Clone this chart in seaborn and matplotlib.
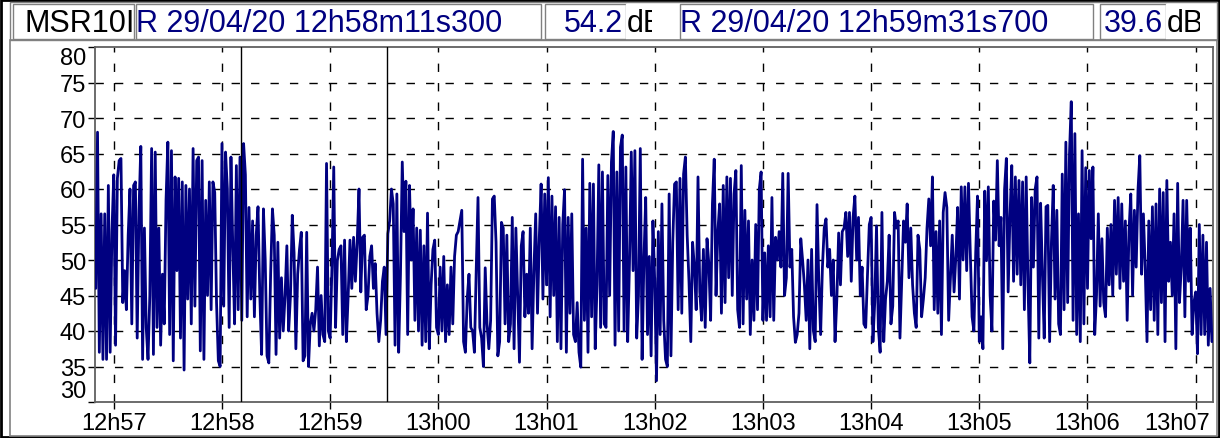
import numpy as np
import pandas as pd
import matplotlib
matplotlib.use('Agg')
from matplotlib import pyplot as plt
from matplotlib.patches import Rectangle
from matplotlib.transforms import ScaledTranslation
import seaborn as sns

# sound level (dB), one reading per second, grouped by minute
seg_1256 = [46, 68, 37, 56.5, 36, 56.5, 36, 60.5, 37, 54]
seg_1257 = [62, 38, 61.5, 64, 64.3, 44, 48.5, 43, 53.5, 60,
            41, 60.5, 61, 39, 57, 66, 36, 54.5, 40.5, 36,
            45, 65.7, 36.7, 65.2, 40.5, 54.5, 38, 48, 41, 58.5,
            66.6, 39.5, 65.4, 35.8, 61.7, 48.5, 61.5, 39, 61, 34.5,
            60.5, 44.5, 60, 41, 65.7, 43.5, 64, 64.5, 37.2, 64,
            36, 58.4, 45, 61, 43, 61, 59.5, 44, 35.8, 35]
seg_1258 = [66.4, 43.5, 65.2, 60, 40.5, 64.5, 52, 41, 63.3, 43,
            64.5, 41.5, 66.4, 62, 42, 57.4, 44.5, 55.5, 42, 53.5,
            57.5, 45, 36.7, 57.2, 50, 36.5, 35.5, 48, 57.2, 53.5,
            36.7, 52.5, 39, 47.5, 40, 45, 52, 40, 45, 56.3,
            51, 37.5, 48, 51.5, 53.9, 35.8, 36.5, 53.9, 35, 41,
            42.5, 40, 43, 49, 37.9, 45, 39.5, 38.5, 63.6, 40]
seg_1259 = [39, 49, 63.1, 40.5, 49.9, 51.5, 52, 39.5, 52.8, 38.5,
            45, 52.8, 46, 53.2, 47, 52.5, 60, 45.5, 53.2, 53.5,
            43, 45, 50.5, 52, 46, 49.5, 42.5, 38.5, 41.5, 47,
            49, 39.5, 53.7, 55.5, 60, 57.9, 38, 59.3, 37, 48,
            63.8, 54, 61.1, 39.5, 60.5, 50, 57.2, 41.5, 54.5, 40,
            54.2, 38, 52, 38.5, 56.6, 37.5, 46.5, 51.5, 52.8, 40.5]
seg_1300 = [39.5, 49, 40, 50.5, 38.5, 46.5, 39.5, 49, 41, 50.5,
            53.5, 54, 55.5, 57, 38.5, 37, 44.5, 48, 40.5, 40,
            37, 48.5, 58.8, 40.5, 39, 35, 48.9, 41, 37.5, 41.5,
            58.6, 59, 52.5, 36.5, 38.5, 55.3, 54.5, 41, 53.5, 38.5,
            41, 56, 37.5, 54.5, 45, 35.6, 52, 54, 42, 48,
            42.5, 54.5, 37.5, 48.5, 56.5, 42.5, 53.2, 60.7, 44.5, 59.3]
seg_1301 = [46.5, 61.6, 42, 59, 45, 57.5, 38.5, 56, 37.5, 55,
            59.9, 37, 56, 42.5, 56.5, 39.5, 38.5, 44, 37, 34.9,
            64.2, 41.5, 54.5, 37, 60.8, 42, 60.7, 37.5, 46.5, 63.4,
            40.5, 62.4, 41, 40.5, 61.9, 45, 63.8, 68.1, 38, 62.4,
            40, 65.9, 67.6, 40, 63.1, 38.5, 49.5, 65.2, 48.5, 65.4,
            39, 45, 65.7, 36, 49.9, 58.8, 39.5, 50.5, 36.5, 55.5]
seg_1302 = [47, 33, 54, 39.5, 57.9, 41.5, 36, 35, 59.3, 36.5,
            52.5, 60.7, 61, 43, 61.5, 42.5, 62.1, 64.5, 53.5, 47,
            38.5, 52.5, 49, 43, 61.7, 45.5, 41.5, 51.5, 40.5, 53,
            49.5, 41.5, 57.9, 64.2, 45, 54, 57.9, 42.5, 60.5, 44,
            61.7, 47.5, 61.5, 45, 59.3, 62.6, 43, 40.5, 63.3, 41,
            57, 44.5, 55.5, 39.5, 50, 41.5, 55, 43, 60, 62.4]
seg_1303 = [41.5, 51, 41.5, 52, 42, 58.8, 41.5, 53.2, 50, 54,
            49, 62.2, 45, 47.5, 62.2, 49, 51.5, 42, 38.4, 39.5,
            42.5, 53, 50, 46.5, 41.5, 50, 37.5, 51.5, 40, 38.5,
            57.8, 47, 39.5, 49, 54.5, 55.8, 49, 51.5, 45, 50,
            38.5, 44.5, 53.8, 46.5, 54, 54.5, 56.7, 50.5, 56.7, 47,
            56, 59, 50, 56, 45, 49, 41, 40.5, 48, 55]
seg_1304 = [56, 38.5, 44, 54.8, 40.5, 37, 56.7, 38.5, 44.5, 47,
            53.5, 41, 43.5, 56.7, 54.5, 55.5, 39, 47.5, 55.5, 52.5,
            57.9, 47.5, 54.5, 46.5, 42.5, 40.5, 53.5, 51.5, 42, 44.5,
            47.5, 54.5, 58.6, 52, 61.7, 43, 54, 42.5, 55.5, 39.5,
            56.7, 59.5, 57.4, 41.5, 47.5, 53.5, 45.5, 50.5, 57.4, 44.5,
            60.3, 50, 60.3, 48.5, 60.8, 51, 42, 40, 51, 59]
seg_1305 = [38.5, 42, 37.5, 59.7, 49.9, 60.3, 45, 40, 58.3, 52.8,
            64, 52, 56, 37.5, 59.9, 64.3, 45.5, 56, 63.3, 47,
            61.7, 48, 61.2, 46.5, 61, 43, 61.7, 46.5, 35.5, 58.8,
            49, 60, 61.7, 39, 58, 48, 39, 57.5, 57.7, 38.5,
            52.5, 60.5, 44.5, 57, 41, 39.5, 62.1, 43, 66.6, 44,
            64.9, 72.3, 41.5, 67.8, 39.5, 56.5, 38.5, 65.4, 41, 63]
seg_1306 = [46, 62.6, 53, 63.1, 39.5, 45, 56.5, 43.5, 53, 44,
            42, 54.5, 46.5, 55, 45, 58.4, 48, 58.8, 46, 57.9,
            47, 55.5, 41.5, 54, 59.3, 45, 57, 49, 59.8, 64.7,
            48, 56.5, 49, 38.5, 55.5, 43, 57.5, 41.5, 57.9, 39.5,
            60, 44, 59.5, 38.5, 61.2, 47, 52.5, 45, 56.5, 37.5,
            60.8, 44, 49, 58.4, 42, 58.4, 47, 54.5, 39.5, 44]
seg_1307 = [45.5, 36.8, 55, 39.5, 53.5, 39.5, 52.5, 38, 46, 38.5]

tick_labels = ['12h57', '12h58', '12h59', '13h00', '13h01', '13h02',
               '13h03', '13h04', '13h05', '13h06', '13h07']
cursor_times = [70.8, 151.7]   # seconds after 12h57
cursor_text = ['R 29/04/20 12h58m11s300', 'R 29/04/20 12h59m31s700']
cursor_level = ['54.2', '39.6']

levels = (seg_1256 + seg_1257 + seg_1258 + seg_1259 + seg_1300 + seg_1301 +
          seg_1302 + seg_1303 + seg_1304 + seg_1305 + seg_1306 + seg_1307)
df = pd.DataFrame({'t': np.arange(len(levels)) - len(seg_1256), 'dB': levels})

sns.set_theme(style='white')
plt.rcParams['font.family'] = ['Liberation Sans', 'DejaVu Sans']

W, H = 1220, 439
fig = plt.figure(figsize=(W / 100, H / 100), dpi=100)
fig.patch.set_facecolor('white')

def fx(x):
    return x / W

def fy(y):
    return 1 - y / H

def box(x0, y0, x1, y1, fc='white', ec='#808080', lw=1.0, z=1):
    r = Rectangle((fx(x0), fy(y1)), fx(x1) - fx(x0), fy(y0) - fy(y1),
                  transform=fig.transFigure, facecolor=fc, edgecolor=ec, lw=lw,
                  zorder=z)
    fig.add_artist(r)
    return r

# outer frames
box(1, 1, 1219, 438, fc='none', ec='black', lw=2, z=10)
box(10, 41, 1217, 437, fc='none', ec='#808080', lw=1.2, z=10)
box(10, 3, 1217, 41, fc='none', ec='#808080', lw=1, z=10)

# header boxes
hdr_y0, hdr_y1, base = 5, 40, 32
box(13, hdr_y0, 134, hdr_y1)
fig.text(fx(24), fy(base), 'MSR10I', fontsize=22, color='black', va='baseline')
for (x0, x1, lx0, lx1, ux1), txt, lvl in zip(
        [(136, 541, 545, 626, 652), (680, 1093, 1100, 1166, 1200)],
        cursor_text, cursor_level):
    b = box(x0, hdr_y0, x1, hdr_y1)
    t = fig.text(fx(x0), fy(base), txt, fontsize=22, color='#000080', va='baseline')
    t.set_clip_path(b)
    b = box(lx0, hdr_y0, lx1, hdr_y1)
    fig.text(fx(lx1 - 3), fy(base), lvl, fontsize=22, color='#000080', va='baseline', ha='right')
    b = box(lx1, hdr_y0, ux1, hdr_y1, ec='white')
    t = fig.text(fx(lx1 + 1), fy(base), 'dB', fontsize=22, color='black', va='baseline')
    t.set_clip_path(b)

# plot area
ax = fig.add_axes([fx(95), fy(403), fx(1213) - fx(95), fy(48) - fy(403)])
ax.set_zorder(5)
ax.set_facecolor('white')
sns.lineplot(data=df, x='t', y='dB', estimator=None, color='#000080',
             linewidth=2.0, ax=ax, zorder=3)
for ct in cursor_times:
    ax.axvline(ct, color='black', lw=1.0, zorder=4)

ax.set_xlim(-10.4, 609.6)
ax.set_ylim(30, 80)
ax.set_xticks(np.arange(len(tick_labels)) * 60)
ax.set_xticklabels(tick_labels)
ax.set_yticks(np.arange(30, 81, 5))
ax.set_xlabel('')
ax.set_ylabel('')
for y in range(35, 80, 5):
    ax.axhline(y, color='black', lw=1, ls=(0, (6, 8)), zorder=2)
for x in ax.get_xticks():
    ax.axvline(x, color='black', lw=1, ls=(0, (6, 8)), zorder=2)
ax.tick_params(axis='both', labelsize=17, colors='black', direction='out')
ax.tick_params(axis='x', length=5, width=1, pad=2, bottom=True)
ax.tick_params(axis='y', length=5, width=1, pad=1.5, left=True)
ylabels = ax.get_yticklabels()
ylabels[0].set_va('bottom')
ylabels[-1].set_va('top')
last = ax.get_xticklabels()[-1]
last.set_ha('right')
last.set_transform(last.get_transform() + ScaledTranslation(0.14, 0, fig.dpi_scale_trans))
for s in ax.spines.values():
    s.set_color('#606060')
    s.set_linewidth(1.3)

fig.savefig('out.png', dpi=100)
